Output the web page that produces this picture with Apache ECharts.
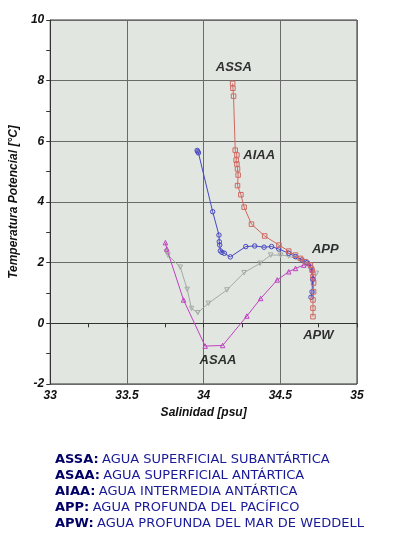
<!DOCTYPE html>
<html><head><meta charset="utf-8">
<script src="https://cdn.jsdelivr.net/npm/echarts@6/dist/echarts.min.js"></script>
<style>html,body{margin:0;padding:0;background:#fff}#c{width:393px;height:538px}</style>
</head><body><div id="c"></div>
<script>
// Data: [salinity, potential temperature]
const redSeries = [[34.189,7.91],[34.191,7.75],[34.195,7.49],[34.206,5.71],[34.217,5.55],[34.212,5.38],[34.217,5.25],[34.221,5.09],[34.225,4.89],[34.221,4.54],[34.243,4.24],[34.264,3.83],[34.312,3.27],[34.398,2.88],[34.491,2.58],[34.555,2.38],[34.599,2.25],[34.631,2.14],[34.663,2.03],[34.696,1.92],[34.707,1.76],[34.713,1.54],[34.717,1.33],[34.717,1.04],[34.713,0.77],[34.713,0.50],[34.713,0.22]];
const blueSeries = [[33.958,5.70],[33.962,5.66],[33.966,5.62],[34.059,3.68],[34.100,2.91],[34.102,2.69],[34.105,2.58],[34.109,2.39],[34.120,2.34],[34.135,2.31],[34.174,2.19],[34.275,2.53],[34.333,2.55],[34.394,2.51],[34.443,2.53],[34.490,2.45],[34.555,2.31],[34.599,2.20],[34.642,2.09],[34.674,2.00],[34.700,1.85],[34.711,1.45],[34.707,1.04],[34.700,0.86]];
const graySeries = [[33.757,2.36],[33.768,2.25],[33.848,1.85],[33.893,1.12],[33.921,0.49],[33.962,0.35],[34.031,0.66],[34.152,1.10],[34.264,1.67],[34.368,1.98],[34.437,2.25],[34.502,2.25],[34.555,2.22],[34.674,1.98],[34.735,1.65]];
const magentaSeries = [[33.751,2.66],[33.760,2.45],[33.869,0.77],[34.010,-0.75],[34.124,-0.73],[34.282,0.24],[34.372,0.82],[34.480,1.43],[34.555,1.70],[34.599,1.81],[34.653,1.92],[34.685,1.98],[34.709,1.76],[34.717,1.48]];
const labelNames = ['ASSA','AIAA','APP','APW','ASAA'];
const labelX = [34.197,34.362,34.793,34.748,34.094];
const labelY = [8.45,5.55,2.45,-0.39,-1.21];
const xTicks = [33,33.5,34,34.5,35];
const yTicks = [-2,0,2,4,6,8,10];
const legendKeys = ['ASSA:','ASAA:','AIAA:','APP:','APW:'];
const legendTexts = ['AGUA SUPERFICIAL SUBANTÁRTICA','AGUA SUPERFICIAL ANTÁRTICA','AGUA INTERMEDIA ANTÁRTICA','AGUA PROFUNDA DEL PACÍFICO','AGUA PROFUNDA DEL MAR DE WEDDELL'];

const chart = echarts.init(document.getElementById('c'), null, {renderer:'canvas'});
const tickFont = {fontFamily:'Liberation Sans, Arial', fontWeight:'bold', fontStyle:'italic', fontSize:12, color:'#111'};
function line(data, color, symbol, rotate){
  return {type:'line', data, symbol, symbolSize:4.5, symbolRotate:rotate||0,
    lineStyle:{color, width:1}, itemStyle:{color:'rgba(0,0,0,0)', borderColor:color, borderWidth:1}, z:3, animation:false};
}
const legendGraphics = legendKeys.map((k,i)=>({
  type:'text', left:55, top:453+i*16,
  style:{text:'{k|'+k+'} {t|'+legendTexts[i]+'}', rich:{
    k:{fontFamily:'DejaVu Sans, Verdana', fontWeight:'bold', fontSize:13, fill:'#000066'},
    t:{fontFamily:'DejaVu Sans, Verdana', fontSize:13, fill:'#1a1a99'}}}
}));
chart.setOption({
  backgroundColor:'#fff',
  animation:false,
  grid:{left:48, top:20, width:309, height:364, show:true, backgroundColor:'#e1e6e1', borderColor:'#333', borderWidth:1},
  xAxis:{type:'value', min:33, max:35, interval:0.5,
    name:'Salinidad [psu]', nameLocation:'middle', nameGap:20,
    nameTextStyle:{fontFamily:'Liberation Sans, Arial', fontWeight:'bold', fontStyle:'italic', fontSize:12, color:'#111'},
    axisLine:{show:true, lineStyle:{color:'#333'}},
    axisTick:{show:true, length:4, lineStyle:{color:'#333'}},
    minorTick:{show:true, splitNumber:2, length:4, lineStyle:{color:'#333'}},
    splitLine:{show:true, lineStyle:{color:'#6a6a6a', width:1}},
    axisLabel:Object.assign({margin:6, formatter:v=>xTicks.includes(v)?String(v):''}, tickFont)},
  yAxis:{type:'value', min:-2, max:10, interval:2,
    name:'Temperatura Potencial [°C]', nameLocation:'middle', nameGap:27, nameRotate:90,
    nameTextStyle:{fontFamily:'Liberation Sans, Arial', fontWeight:'bold', fontStyle:'italic', fontSize:12, color:'#111'},
    axisLine:{show:true, lineStyle:{color:'#333'}},
    axisTick:{show:true, length:4, lineStyle:{color:'#333'}},
    minorTick:{show:true, splitNumber:2, length:4, lineStyle:{color:'#333'}},
    splitLine:{show:true, lineStyle:{color:'#6a6a6a', width:1}},
    axisLabel:Object.assign({margin:6, formatter:v=>yTicks.includes(v)?String(v):''}, tickFont)},
  series:[
    line(graySeries,'#a4aaa4','triangle',180),
    line(magentaSeries,'#c040c0','triangle',0),
    line(blueSeries,'#4848c0','circle',0),
    line(redSeries,'#d06860','rect',0),
    {type:'scatter', symbolSize:0, z:5, data:labelNames.map((n,i)=>[labelX[i],labelY[i],n]),
      label:{show:true, position:'inside', formatter:p=>p.data[2], fontFamily:'Liberation Sans, Arial', fontWeight:'bold', fontStyle:'italic', fontSize:13, color:'#000', textBorderWidth:0}}
  ],
  graphic:legendGraphics
});
</script></body></html>
